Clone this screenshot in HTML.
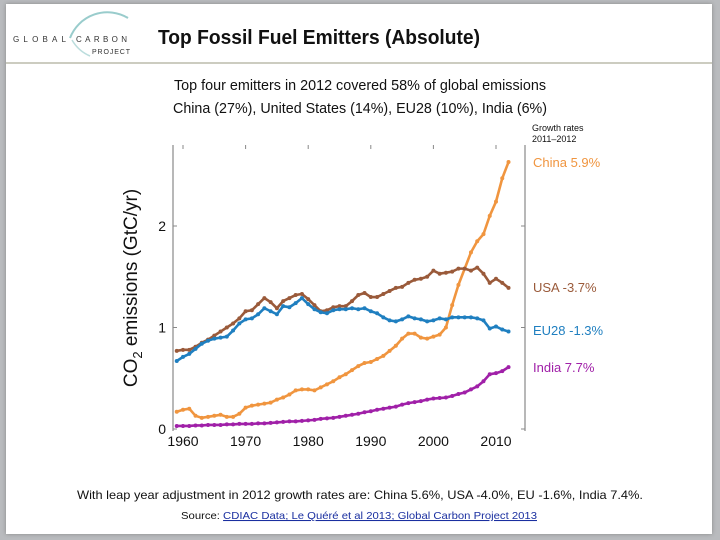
<!DOCTYPE html>
<html><head><meta charset="utf-8"><style>
body{margin:0;width:720px;height:540px;background:#b9bbbe;overflow:hidden;font-family:"Liberation Sans",sans-serif}
#slide{position:absolute;left:6px;top:4px;width:706px;height:530px;background:#fff;box-shadow:0 0 4px #888}
</style></head><body>
<div id="slide"></div>
<svg width="720" height="540" style="position:absolute;left:0;top:0" font-family="Liberation Sans, sans-serif">
<g>
<path d="M70 38 A40 40 0 0 1 128 18" fill="none" stroke="#9cc" stroke-width="2"/>
<path d="M72 40 A38 38 0 0 0 90 56" fill="none" stroke="#bdd" stroke-width="1.5"/>
<text x="13" y="42" font-size="8" fill="#333" textLength="53" lengthAdjust="spacing">GLOBAL</text>
<text x="76" y="42" font-size="8" fill="#333" textLength="51" lengthAdjust="spacing">CARBON</text>
<text x="92" y="54" font-size="7" fill="#333" textLength="38" lengthAdjust="spacing">PROJECT</text>
</g>
<text x="158" y="44" font-size="20" font-weight="bold" fill="#111" textLength="322" lengthAdjust="spacingAndGlyphs">Top Fossil Fuel Emitters (Absolute)</text>
<line x1="6" y1="63" x2="712" y2="63" stroke="#9a9a80" stroke-width="1"/>
<text x="360" y="90" font-size="15" text-anchor="middle" fill="#111" textLength="372" lengthAdjust="spacingAndGlyphs">Top four emitters in 2012 covered 58% of global emissions</text>
<text x="360" y="113" font-size="15" text-anchor="middle" fill="#111" textLength="374" lengthAdjust="spacingAndGlyphs">China (27%), United States (14%), EU28 (10%), India (6%)</text>
<text x="532" y="131" font-size="9" fill="#111">Growth rates</text>
<text x="532" y="142" font-size="9" fill="#111">2011–2012</text>
<text transform="translate(137,288) rotate(-90)" font-size="19" text-anchor="middle" fill="#111">CO<tspan font-size="13" dy="5">2</tspan><tspan dy="-5"> emissions (GtC/yr)</tspan></text>
<g id="chart"></g>
<text x="360" y="499" font-size="12" text-anchor="middle" fill="#111" textLength="566" lengthAdjust="spacingAndGlyphs">With leap year adjustment in 2012 growth rates are: China 5.6%, USA -4.0%, EU -1.6%, India 7.4%.</text>
<text x="181" y="519" font-size="10.5" fill="#111" textLength="356" lengthAdjust="spacingAndGlyphs">Source: <tspan fill="#1a2fa0" text-decoration="underline">CDIAC Data; Le Quéré et al 2013; Global Carbon Project 2013</tspan></text>
</svg>
<script>
const years=[];for(let y=1959;y<=2012;y++)years.push(y);
const china=[0.17,0.19,0.2,0.13,0.11,0.12,0.13,0.14,0.12,0.12,0.15,0.21,0.23,0.24,0.25,0.26,0.29,0.31,0.34,0.38,0.39,0.39,0.38,0.41,0.44,0.47,0.51,0.54,0.58,0.62,0.65,0.66,0.69,0.72,0.77,0.82,0.89,0.94,0.94,0.9,0.89,0.91,0.93,1.0,1.22,1.42,1.58,1.74,1.85,1.92,2.1,2.24,2.47,2.63];
const usa=[0.77,0.78,0.78,0.81,0.85,0.88,0.92,0.96,1.0,1.04,1.09,1.16,1.17,1.23,1.29,1.25,1.19,1.26,1.29,1.32,1.33,1.28,1.22,1.16,1.17,1.2,1.21,1.21,1.26,1.32,1.34,1.3,1.3,1.33,1.36,1.39,1.4,1.44,1.47,1.48,1.5,1.56,1.53,1.54,1.55,1.58,1.58,1.56,1.59,1.53,1.44,1.48,1.44,1.39];
const eu28=[0.67,0.71,0.74,0.79,0.84,0.87,0.89,0.9,0.91,0.97,1.04,1.08,1.09,1.13,1.19,1.16,1.13,1.21,1.2,1.24,1.29,1.23,1.18,1.15,1.14,1.17,1.18,1.18,1.19,1.18,1.19,1.16,1.14,1.1,1.07,1.06,1.08,1.11,1.09,1.08,1.06,1.07,1.09,1.08,1.1,1.1,1.1,1.1,1.09,1.07,0.99,1.01,0.98,0.96];
const india=[0.03,0.03,0.03,0.035,0.035,0.04,0.04,0.04,0.045,0.045,0.05,0.05,0.05,0.055,0.055,0.06,0.065,0.07,0.075,0.075,0.08,0.085,0.09,0.1,0.105,0.11,0.12,0.13,0.14,0.15,0.165,0.175,0.19,0.2,0.21,0.22,0.24,0.255,0.265,0.275,0.29,0.3,0.305,0.31,0.325,0.345,0.36,0.39,0.42,0.47,0.54,0.55,0.57,0.61];
const xTicks=[1960,1970,1980,1990,2000,2010];
const yTicks=[0,1,2];
const labels=["China 5.9%","USA -3.7%","EU28 -1.3%","India 7.7%"];
const NS="http://www.w3.org/2000/svg";
const g=document.getElementById('chart');
const X=y=>183+(y-1960)*6.26, Y=v=>429-v*101.5;
function mk(t,a){const e=document.createElementNS(NS,t);for(const k in a)e.setAttribute(k,a[k]);g.appendChild(e);return e;}
let ax=mk('line',{x1:173,y1:145,x2:173,y2:431,stroke:'#888','stroke-width':1.2});

ax=mk('line',{x1:525,y1:145,x2:525,y2:431,stroke:'#888','stroke-width':1.2});

xTicks.forEach(t=>{mk('line',{x1:X(t),y1:145,x2:X(t),y2:149,stroke:'#888'});
const tx=mk('text',{x:X(t),y:446,'font-size':14,'text-anchor':'middle',fill:'#111'});tx.textContent=t;
});
yTicks.forEach(t=>{mk('line',{x1:173,y1:Y(t),x2:177,y2:Y(t),stroke:'#888'});mk('line',{x1:521,y1:Y(t),x2:525,y2:Y(t),stroke:'#888'});
const tx=mk('text',{x:166,y:Y(t)+5,'font-size':14,'text-anchor':'end',fill:'#111'});tx.textContent=t;
});
const series=[[china,'#f0953f','china'],[usa,'#9a5a3a','usa'],[eu28,'#1f7fc0','eu28'],[india,'#a020a8','india']];
series.forEach(([d,c,n],i)=>{
 const p=mk('polyline',{points:d.map((v,j)=>X(years[j])+','+Y(v)).join(' '),fill:'none',stroke:c,'stroke-width':2.6});
 
 d.forEach((v,j)=>mk('circle',{cx:X(years[j]),cy:Y(v),r:2,fill:c}));
 const lt=mk('text',{x:533,y:[167,292,335,372][i],'font-size':13,fill:c});lt.textContent=labels[i];
 
});
</script>
</body></html>
